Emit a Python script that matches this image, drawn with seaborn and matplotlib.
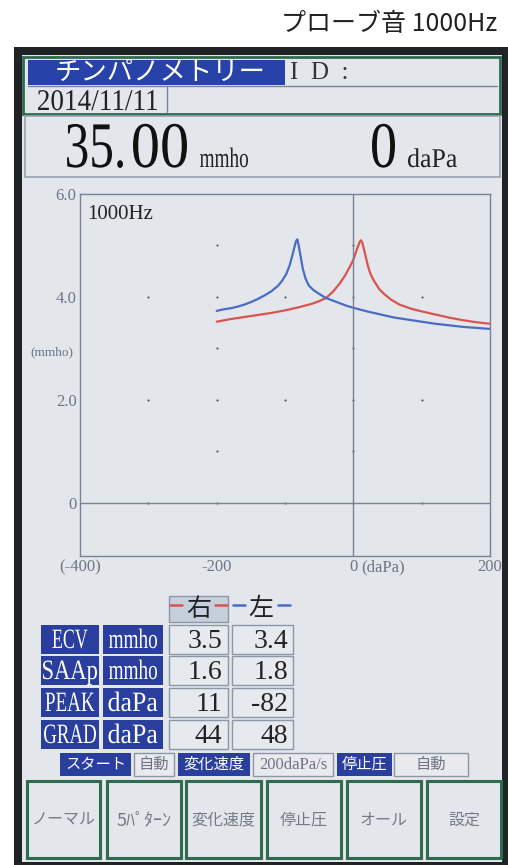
import numpy as np
import pandas as pd
import matplotlib.pyplot as plt
import seaborn as sns
from matplotlib.patches import Rectangle, PathPatch
from matplotlib.textpath import TextPath
from matplotlib.font_manager import FontProperties
from matplotlib.transforms import Affine2D

sns.set_theme(style="white")
plt.rcParams['font.family'] = ['Noto Sans CJK JP', 'DejaVu Sans']

SERIF = ['Liberation Serif', 'DejaVu Serif']
JP = ['Noto Sans CJK JP', 'DejaVu Sans']

# 右耳 (赤) のティンパノグラム
right_x = [-200, -180, -160, -140, -120, -100, -80, -60, -50, -40, -30, -20, -12, -5, 0,
           5, 9, 11, 13, 17, 21, 25, 30, 38, 45, 55, 68, 85, 100, 120, 140, 160, 180, 200]
right_y = [3.52, 3.57, 3.61, 3.65, 3.69, 3.74, 3.80, 3.87, 3.92, 3.98, 4.10, 4.26, 4.42, 4.59, 4.72,
           4.92, 5.06, 5.10, 5.06, 4.85, 4.62, 4.45, 4.32, 4.15, 4.06, 3.95, 3.85, 3.77, 3.72, 3.66,
           3.60, 3.55, 3.51, 3.48]

# 左耳 (青) のティンパノグラム
left_x = [-200, -190, -180, -170, -160, -150, -140, -130, -120, -110, -104, -98, -93, -89, -86,
          -84, -82, -80, -77, -74, -70, -65, -58, -50, -40, -30, -20, -10, 0, 20, 40, 60, 80,
          100, 120, 140, 160, 180, 200]
left_y = [3.73, 3.76, 3.78, 3.81, 3.85, 3.90, 3.96, 4.03, 4.11, 4.22, 4.32, 4.45, 4.62, 4.82, 4.98,
          5.08, 5.12, 5.00, 4.78, 4.55, 4.36, 4.22, 4.13, 4.06, 3.98, 3.93, 3.88, 3.83, 3.79, 3.72,
          3.66, 3.60, 3.56, 3.52, 3.48, 3.45, 3.42, 3.40, 3.38]

x_ticks = [-400, -200, 0, 200]
x_ticklabels = ['(-400)', '-200', '0', '200']
y_ticks = [0, 2, 4, 6]
y_ticklabels = ['0', '2.0', '4.0', '6.0']

# 結果テーブル
param_names = ['ECV', 'SAAp', 'PEAK', 'GRAD']
param_units = ['mmho', 'mmho', 'daPa', 'daPa']
right_vals = ['3.5', '1.6', '11', '44']
left_vals = ['3.4', '1.8', '-82', '48']

status_labels = ['スタート', '自動', '変化速度', '200daPa/s', '停止圧', '自動']
status_is_key = [True, False, True, False, True, False]
button_labels = ['ノーマル', '5ﾊﾟﾀｰﾝ', '変化速度', '停止圧', 'オール', '設定']

SCREEN = '#e3e6eb'
NAVY = '#2a3e9e'
GREEN = '#2f6b4f'
GRAYTXT = '#6f7484'
RED = '#d9534f'
BLUE = '#4a6cc8'

fig = plt.figure(figsize=(5.08, 8.65), dpi=100)
fig.patch.set_facecolor('white')

bg = fig.add_axes([0, 0, 1, 1])
bg.set_xlim(0, 508)
bg.set_ylim(865, 0)
bg.axis('off')


def box(x0, y0, x1, y1, fc, ec='none', lw=1.0, z=1):
    bg.add_patch(Rectangle((x0, y0), x1 - x0, y1 - y0, facecolor=fc, edgecolor=ec, linewidth=lw, zorder=z))


def narrow_text(x, base, s, em, width, color, ha='left', family=SERIF):
    # 細長い明朝風の文字を TextPath で横方向に縮めて描く
    tp = TextPath((0, 0), s, size=em, prop=FontProperties(family=family))
    ext = tp.get_extents()
    sx = width / ext.width
    if ha == 'left':
        x0 = x - ext.x0 * sx
    elif ha == 'center':
        x0 = x - (ext.x0 + ext.width / 2) * sx
    else:
        x0 = x - ext.x1 * sx
    tr = Affine2D().scale(sx, -1).translate(x0, base)
    bg.add_patch(PathPatch(tr.transform_path(tp), facecolor=color, edgecolor='none', lw=0, zorder=3))


# 外枠
box(14, 47, 508, 865, '#202326', z=0)
box(22, 55, 502, 862, SCREEN, z=0)

bg.text(497, 24, 'プローブ音 1000Hz', ha='right', va='center', fontsize=18, color='#222', family=JP)

# ヘッダー
box(23, 57, 500, 114, SCREEN, GREEN, 2)
box(28, 60, 285, 85, '#2742a8')
bg.plot([28, 497], [86, 86], color='#7c8298', lw=1)
bg.plot([167, 167], [86, 112], color='#7c8298', lw=1)
bg.text(160, 72.5, 'チンパノメトリー', ha='center', va='center', fontsize=19, color='white', family=JP)
bg.text(290, 73, 'I  D  :', ha='left', va='center', fontsize=18, color='#333', family=SERIF)
narrow_text(38, 110, '2014/11/11', 30, 119, '#222')

# 測定値
box(25, 116, 500, 177, SCREEN, '#9aa0ae', 1.2)
narrow_text(67, 167, '35.', 65, 56, '#111')
narrow_text(133, 167, '00', 65, 54, '#111')
narrow_text(200, 167, 'mmho', 28, 48, '#222')
narrow_text(372, 167, '0', 65, 23, '#111')
narrow_text(408, 167, 'daPa', 27, 49, '#222')

# グラフ
ax = fig.add_axes([80 / 508, 1 - 556 / 865, 410 / 508, 362 / 865])
ax.set_facecolor(SCREEN)

curves = pd.concat([
    pd.DataFrame({'pressure': right_x, 'admittance': right_y, 'ear': '右'}),
    pd.DataFrame({'pressure': left_x, 'admittance': left_y, 'ear': '左'}),
])
sns.lineplot(data=curves, x='pressure', y='admittance', hue='ear', palette={'右': RED, '左': BLUE},
             estimator=None, sort=False, legend=False, linewidth=1.6, ax=ax)

ax.set_xlim(-400, 200)
ax.set_ylim(-1.03, 6.0)
ax.axhline(0, color='#7a8096', lw=1)
ax.axvline(0, color='#7a8096', lw=1)
for s in ax.spines.values():
    s.set_color('#7a8096')
    s.set_linewidth(1)

dot_x, dot_y = [], []
for gx in [-300, -200, -100, 0, 100]:
    levels = [1, 2, 3, 4, 5] if gx in (-200, 0) else [2, 4]
    for gy in levels + [0]:
        dot_x.append(gx)
        dot_y.append(gy)
ax.scatter(dot_x, dot_y, s=2.5, color='#555a66', zorder=1, linewidths=0)

ax.set_xticks(x_ticks, x_ticklabels)
ax.set_yticks(y_ticks, y_ticklabels)
ax.tick_params(length=0, labelsize=12, labelcolor=GRAYTXT, pad=2.5)
for lab in ax.get_xticklabels() + ax.get_yticklabels():
    lab.set_family(SERIF)
ax.set_xlabel('')
ax.set_ylabel('')
ax.text(-390, 5.6, '1000Hz', ha='left', va='center', fontsize=15, color='#222', family=SERIF)
bg.text(52, 352, '(mmho)', ha='center', va='center', fontsize=9.5, color=GRAYTXT, family=SERIF)
bg.text(361, 567, '(daPa)', ha='left', va='center', fontsize=12, color=GRAYTXT, family=SERIF)

# 結果テーブル
box(169, 596, 228, 622, '#c6d0dc', '#8d95a6', 1)
bg.text(199, 609, '右', ha='center', va='center', fontsize=18, color='#222', family=JP)
bg.text(261, 609, '左', ha='center', va='center', fontsize=18, color='#222', family=JP)
for xs, col in [((170, 182), RED), ((215, 227), RED), ((233, 245), BLUE), ((278, 290), BLUE)]:
    bg.plot(xs, [605, 605], color=col, lw=1.8)

row_tops = [625, 656, 688, 720]
name_widths = [35, 54, 49, 52]
unit_widths = {'mmho': 48, 'daPa': 49}
for i, top in enumerate(row_tops):
    bot = top + 29
    base = top + 23
    box(41, top, 99, bot, NAVY)
    box(103, top, 163, bot, NAVY)
    box(169, top, 228, bot, '#e6e9ee', '#8d95a6', 1)
    box(232, top, 293, bot, '#e6e9ee', '#8d95a6', 1)
    narrow_text(70, base, param_names[i], 28, name_widths[i], 'white', ha='center')
    narrow_text(133, base, param_units[i], 28, unit_widths[param_units[i]], 'white', ha='center')
    bg.text(222, base, right_vals[i], ha='right', va='baseline', fontsize=20, color='#222', family=SERIF)
    bg.text(288, base, left_vals[i], ha='right', va='baseline', fontsize=20, color='#222', family=SERIF)

# 設定バー
status_bounds = [(60, 131), (134, 174), (178, 250), (253, 333), (337, 392), (394, 468)]
for (x0, x1), lab, key in zip(status_bounds, status_labels, status_is_key):
    if key:
        box(x0, 753, x1, 776, NAVY)
        bg.text((x0 + x1) / 2, 764.5, lab, ha='center', va='center', fontsize=11, color='white', family=JP)
    elif 'daPa' in lab:
        box(x0, 753, x1, 776, '#e8eaee', '#8d95a6', 1)
        bg.text((x0 + x1) / 2, 765, lab, ha='center', va='center', fontsize=12, color=GRAYTXT, family=SERIF)
    else:
        box(x0, 753, x1, 776, '#e8eaee', '#8d95a6', 1)
        bg.text((x0 + x1) / 2, 764.5, lab, ha='center', va='center', fontsize=11, color=GRAYTXT, family=JP)

# ボタン
button_bounds = [(27, 100), (107, 181), (186, 261), (267, 341), (347, 421), (427, 501)]
for (x0, x1), lab in zip(button_bounds, button_labels):
    box(x0, 781, x1, 858, '#e3e6ea', GREEN, 2.2)
    fs = 13 if lab.startswith('5') else 11.5
    bg.text((x0 + x1) / 2, 820, lab, ha='center', va='center', fontsize=fs, color='#767a88', family=JP)

fig.savefig('out.png', dpi=100)
plt.close(fig)
